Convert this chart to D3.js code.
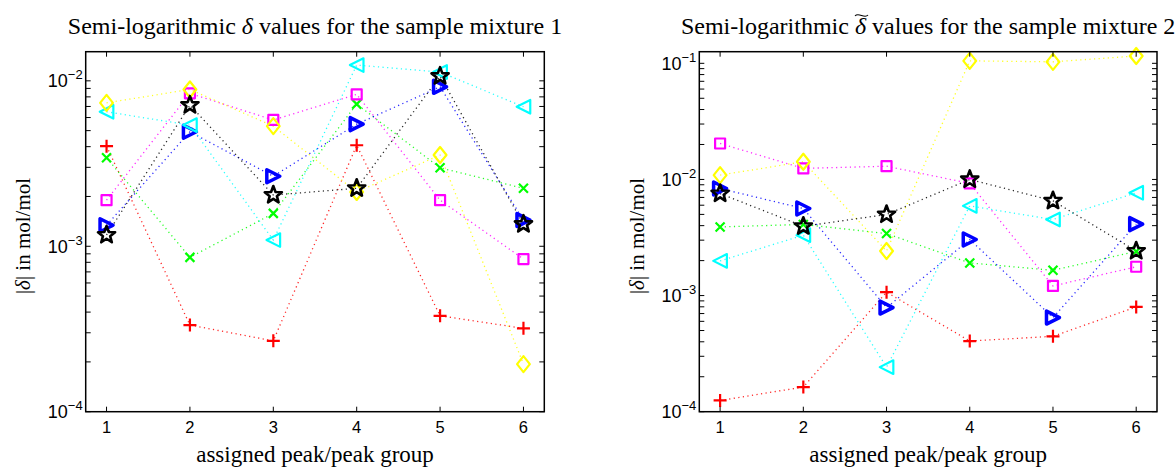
<!DOCTYPE html>
<html>
<head>
<meta charset="utf-8">
<script src="https://cdn.jsdelivr.net/npm/d3@7"></script>
<style>
body { margin: 0; background: #fff; }
svg { display: block; }
</style>
</head>
<body>
<div id="chart"></div>
<script>
// peak groups on the x axis
var peaks = [1, 2, 3, 4, 5, 6];
var xTicks = [1, 2, 3, 4, 5, 6];

// sample mixture 1, |delta| in mol/mol
var mix1Red     = [0.00403, 0.000334, 0.000268, 0.00408, 0.00038, 0.000319];
var mix1Green   = [0.00343, 0.000857, 0.00158, 0.00723, 0.00298, 0.00224];
var mix1Blue    = [0.00134, 0.00492, 0.00265, 0.00547, 0.0092, 0.00144];
var mix1Cyan    = [0.0065, 0.0054, 0.00109, 0.01245, 0.0113, 0.00697];
var mix1Magenta = [0.0019, 0.0084, 0.0058, 0.00828, 0.0019, 0.000837];
var mix1Yellow  = [0.00736, 0.00887, 0.00532, 0.00213, 0.00356, 0.000194];
var mix1Black   = [0.00117, 0.00713, 0.00204, 0.00224, 0.01067, 0.00136];

// sample mixture 2, |delta~| in mol/mol
var mix2Red     = [0.000125, 0.000163, 0.00107, 0.000406, 0.000446, 0.000798];
var mix2Green   = [0.0039, 0.0041, 0.00342, 0.00191, 0.00165, 0.0024];
var mix2Blue    = [0.00835, 0.00562, 0.000788, 0.00304, 0.000646, 0.00412];
var mix2Cyan    = [0.00199, 0.00331, 0.000242, 0.00592, 0.00452, 0.00767];
var mix2Magenta = [0.0204, 0.01245, 0.0130, 0.00924, 0.00121, 0.00177];
var mix2Yellow  = [0.0109, 0.0142, 0.00242, 0.105, 0.103, 0.1156];
var mix2Black   = [0.00756, 0.00395, 0.00499, 0.0100, 0.00655, 0.00242];

var yTicks = [1e-4, 1e-3, 1e-2, 1e-1];

var W = 1175, H = 467;
var SERIF = "'Liberation Serif', 'Times New Roman', serif";
var SANS = "'Liberation Sans', Arial, sans-serif";

// custom marker types for d3.symbol; size is used as half extent in px
var mk = {
	plus: {draw: function(c, r){ c.moveTo(-r, 0); c.lineTo(r, 0); c.moveTo(0, -r); c.lineTo(0, r); }},
	cross: {draw: function(c, r){ c.moveTo(-r, -r); c.lineTo(r, r); c.moveTo(-r, r); c.lineTo(r, -r); }},
	square: {draw: function(c, r){ c.rect(-r, -r, 2*r, 2*r); }},
	diamond: {draw: function(c, r){ var w = r*0.8; c.moveTo(0, -r); c.lineTo(w, 0); c.lineTo(0, r); c.lineTo(-w, 0); c.closePath(); }},
	triLeft: {draw: function(c, r){ c.moveTo(-r, 0); c.lineTo(r, -r); c.lineTo(r, r); c.closePath(); }},
	triRight: {draw: function(c, r){ c.moveTo(r, 0); c.lineTo(-r, -r); c.lineTo(-r, r); c.closePath(); }},
	star: {draw: function(c, r){
		var ri = r*0.42;
		for(var i = 0; i < 10; i++){
			var a = -Math.PI/2 + i*Math.PI/5, rr = i % 2 ? ri : r;
			if(i === 0) c.moveTo(rr*Math.cos(a), rr*Math.sin(a));
			else c.lineTo(rr*Math.cos(a), rr*Math.sin(a));
		}
		c.closePath();
	}}
};

var seriesStyle = [
	{color: "#ff0000", type: mk.plus, size: 6.5, sw: 2.2},
	{color: "#00ff00", type: mk.cross, size: 4.5, sw: 2.2},
	{color: "#0000ff", type: mk.triRight, size: 6.5, sw: 3.5},
	{color: "#00ffff", type: mk.triLeft, size: 6.8, sw: 2.2},
	{color: "#ff00ff", type: mk.square, size: 5, sw: 2.2},
	{color: "#ffff00", type: mk.diamond, size: 8, sw: 2.2},
	{color: "#000000", type: mk.star, size: 9, sw: 2.6}
];

var svg = d3.select("#chart").append("svg")
	.attr("width", W)
	.attr("height", H);

function drawPanel(opts){
	var x = d3.scaleLinear().domain([0.75, 6.25]).range([opts.left, opts.right]);
	var y = d3.scaleLog().domain(opts.yDomain).range([411.7, 51.7]);
	var g = svg.append("g");

	// series lines + markers
	opts.series.forEach(function(vals, si){
		var st = seriesStyle[si];
		var pts = peaks.map(function(p, i){ return [p, vals[i]]; });
		g.append("path")
			.datum(pts)
			.attr("fill", "none")
			.attr("stroke", st.color)
			.attr("stroke-width", 1.3)
			.attr("stroke-opacity", 0.85)
			.attr("stroke-dasharray", "1.2,3.4")
			.attr("d", d3.line().x(function(d){ return x(d[0]); }).y(function(d){ return y(d[1]); }));
	});
	opts.series.forEach(function(vals, si){
		var st = seriesStyle[si];
		g.selectAll(null)
			.data(peaks.map(function(p, i){ return [p, vals[i]]; }))
			.enter().append("path")
			.attr("transform", function(d){ return "translate(" + x(d[0]) + "," + y(d[1]) + ")"; })
			.attr("d", d3.symbol(st.type, st.size))
			.attr("fill", "none")
			.attr("stroke", st.color)
			.attr("stroke-width", st.sw)
			.attr("stroke-linejoin", "round");
	});

	// box
	var y0 = y.range()[1], y1 = y.range()[0];
	g.append("rect")
		.attr("x", opts.left).attr("y", y0)
		.attr("width", opts.right - opts.left).attr("height", y1 - y0)
		.attr("fill", "none").attr("stroke", "#000").attr("stroke-width", 1.5);

	// x ticks, inside top and bottom
	var tl = 5;
	xTicks.forEach(function(t){
		g.append("line").attr("x1", x(t)).attr("x2", x(t)).attr("y1", y1).attr("y2", y1 - tl).attr("stroke", "#000");
		g.append("line").attr("x1", x(t)).attr("x2", x(t)).attr("y1", y0).attr("y2", y0 + tl).attr("stroke", "#000");
		g.append("text")
			.attr("x", x(t)).attr("y", 433)
			.attr("text-anchor", "middle")
			.style("font-family", SANS).style("font-size", "16.5px")
			.text(t);
	});

	// y ticks (log, with minor ticks)
	var dom = y.domain();
	var lo = Math.floor(Math.log10(dom[0])), hi = Math.ceil(Math.log10(dom[1]));
	for(var e = lo; e <= hi; e++){
		for(var m = 1; m < 10; m++){
			var v = m*Math.pow(10, e);
			if(v < dom[0]*0.999 || v > dom[1]*1.001) continue;
			var py = y(v);
			g.append("line").attr("x1", opts.left).attr("x2", opts.left + tl).attr("y1", py).attr("y2", py).attr("stroke", "#000");
			g.append("line").attr("x1", opts.right).attr("x2", opts.right - tl).attr("y1", py).attr("y2", py).attr("stroke", "#000");
		}
	}
	yTicks.filter(function(t){ return t >= dom[0]*0.999 && t <= dom[1]*1.001; }).forEach(function(t){
		var txt = g.append("text")
			.attr("x", opts.left - 3).attr("y", y(t) + 6.5)
			.attr("text-anchor", "end")
			.style("font-family", SANS).style("font-size", "18px");
		txt.append("tspan").text("10");
		txt.append("tspan").attr("dy", -8).style("font-size", "13px").text("\u2212" + (-Math.round(Math.log10(t))));
	});

	// y label
	var yl = g.append("text")
		.attr("transform", "translate(" + (opts.left - 55.5) + ",236) rotate(-90)")
		.attr("text-anchor", "middle")
		.style("font-family", SERIF).style("font-size", "21px");
	yl.append("tspan").text("|");
	yl.append("tspan").style("font-style", "italic").text("\u03b4");
	yl.append("tspan").text("| in mol/mol");

	// x label
	g.append("text")
		.attr("x", (opts.left + opts.right)/2).attr("y", 462)
		.attr("text-anchor", "middle")
		.style("font-family", SERIF).style("font-size", "23px")
		.text("assigned peak/peak group");

	// title
	var pre = "Semi-logarithmic ";
	var tt = g.append("text")
		.attr("x", (opts.left + opts.right)/2).attr("y", 34)
		.attr("text-anchor", "middle")
		.style("font-family", SERIF).style("font-size", "24px");
	tt.append("tspan").text(pre);
	tt.append("tspan").style("font-style", "italic").text("\u03b4");
	tt.append("tspan").text(" values for the sample mixture " + opts.num);
	if(opts.tilde){
		var b = tt.node().getExtentOfChar(pre.length);
		var cx = b.x + b.width/2 + 1, ty = b.y + 2;
		g.append("path")
			.attr("d", "M" + (cx - 6.5) + "," + (ty + 1) + " C" + (cx - 3) + "," + (ty - 3.5) + " " + (cx + 3) + "," + (ty + 4.5) + " " + (cx + 6.5) + "," + ty)
			.attr("fill", "none").attr("stroke", "#000").attr("stroke-width", 1.1);
	}
}

drawPanel({
	left: 85.7, right: 544.3, yDomain: [1e-4, 0.015], num: 1, tilde: false,
	series: [mix1Red, mix1Green, mix1Blue, mix1Cyan, mix1Magenta, mix1Yellow, mix1Black]
});
drawPanel({
	left: 699.3, right: 1157, yDomain: [1e-4, Math.pow(10, -0.9)], num: 2, tilde: true,
	series: [mix2Red, mix2Green, mix2Blue, mix2Cyan, mix2Magenta, mix2Yellow, mix2Black]
});
</script>
</body>
</html>
